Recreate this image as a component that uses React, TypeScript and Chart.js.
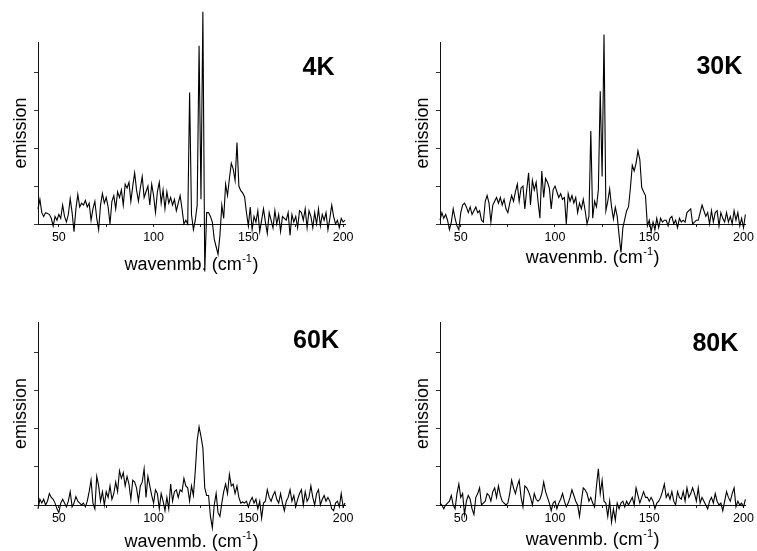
import React, { useEffect, useRef } from 'react';
import { Chart, registerables } from 'chart.js';

Chart.register(...registerables);

// wavenumber grid (cm^-1), one sample per cm^-1 from 39 to 201
const WAVENUMBERS: number[] = Array.from({ length: 163 }, (_, i) => 39 + i);

const EMISSION_4K = [
  0.4, 0.65, 0.3, 0.2, 0.3, 0.28, 0.25, 0.15, -0.05, 0.2,
  0.1, 0.25, 0.15, 0.5, 0.2, 0.05, 0.25, 0.67, 0.3, -0.2,
  0.4, 0.78, 0.45, 0.55, 0.5, 0.62, 0.45, 0.55, 0.1, 0.4,
  0.6, 0.15, -0.15, 0.5, 0.8, 0.55, 0.7, 0.45, 0.0, 0.6,
  0.75, 0.4, 0.85, 0.7, 0.9, 0.5, 1.05, 0.95, 1.1, 0.6,
  1.0, 1.35, 0.9, 0.6, 0.95, 1.25, 0.7, 0.85, 1.0, 0.5,
  1.05, 0.75, 0.3, 0.85, 1.1, 0.55, 0.9, 0.4, 0.85, 0.55,
  0.7, 0.5, 0.65, 0.35, 0.55, 0.75, 0.4, 0.0, 0.1, 0.0,
  3.47, 0.25, -0.15, 0.1, 0.5, 4.7, 0.65, 5.6, -1.25, 0.3,
  0.3, 0.2, 0.05, -0.4, -0.6, -0.8, -0.3, 0.5, 0.15, 1.05,
  0.75, 1.2, 1.6, 1.45, 1.15, 2.15, 1.0, 0.88, 0.82, 0.72,
  0.3, -0.05, 0.45, -0.15, 0.2, 0.05, 0.35, -0.2, 0.1, 0.4,
  0.05, -0.25, 0.3, 0.1, -0.1, 0.35, 0.0, 0.25, -0.2, 0.2,
  0.15, 0.1, 0.3, -0.3, 0.25, 0.05, 0.2, -0.1, 0.35, 0.3,
  0.1, 0.4, -0.1, 0.35, 0.2, -0.1, 0.3, 0.0, 0.4, -0.05,
  0.25, 0.1, 0.3, -0.15, 0.15, 0.5, 0.2, 0.0, 0.1, -0.1,
  0.15, 0.05, 0.1,
];

const EMISSION_30K = [
  0.1, 0.3, 0.15, 0.25, 0.1, -0.15, 0.05, 0.4, 0.15, -0.05,
  -0.15, 0.3, 0.5, 0.55, 0.45, 0.3, 0.45, 0.25, 0.35, 0.45,
  0.3, 0.35, 0.1, 0.05, 0.6, 0.75, 0.55, 0.05, 0.5, 0.6,
  0.7, 0.55, 0.7, 0.5, 0.65, 0.4, 0.3, 0.55, 0.75, 0.6,
  0.85, 1.05, 0.6, 0.95, 1.0, 0.4, 0.9, 1.35, 0.5, 1.15,
  0.9, 1.1, 0.6, 0.15, 1.4, 0.7, 1.2, 1.1, 0.95, 0.4,
  0.9, 1.0, 0.85, 0.7, 0.8, 0.65, 0.7, 0.0, 0.8, 0.6,
  0.75, 0.55, 0.7, 0.3, 0.55, 0.4, 0.65, 0.35, 0.0, 0.2,
  2.45, 0.15, 0.6, 0.45, 0.9, 3.5, 1.25, 5.0, 0.35, 0.6,
  0.92, 0.45, 0.13, 0.44, 0.2, -0.3, -0.75, -0.1, 0.13, 0.35,
  0.45, 0.95, 1.55, 1.4, 1.6, 1.93, 1.7, 0.96, 0.85, 0.75,
  -0.05, 0.1, -0.2, 0.05, -0.15, 0.15, -0.1, 0.15, 0.05, 0.1,
  0.1, -0.05, 0.15, 0.2, 0.0, 0.1, -0.1, 0.15, 0.05, 0.1,
  0.05, 0.3, 0.35, 0.4, 0.0, 0.05, 0.1, 0.1, 0.3, 0.5,
  0.35, 0.2, 0.3, 0.0, 0.35, 0.05, 0.3, 0.35, -0.05, 0.3,
  0.15, 0.05, 0.3, 0.05, 0.2, 0.0, 0.35, 0.1, 0.3, -0.05,
  0.15, -0.1, 0.25,
];

const EMISSION_60K = [
  -0.1, 0.15, 0.05, 0.15, 0.0, 0.1, 0.3, 0.2, 0.15, 0.05,
  -0.1, -0.2, 0.05, 0.15, 0.05, -0.05, 0.1, 0.35, -0.05, 0.05,
  0.22, 0.1, 0.05, 0.0, 0.05, -0.05, 0.1, 0.35, 0.65, 0.05,
  -0.1, 0.75, 0.5, 0.1, 0.35, 0.0, 0.35, 0.2, 0.5, 0.15,
  0.3, 0.6, 0.35, 0.9, 0.7, 0.85, 0.5, 0.75, 0.55, 0.15,
  0.65, 0.6, 0.45, 0.1, 0.5, 0.6, 0.95, 0.2, 0.75, 0.5,
  0.25, 0.05, 0.4, 0.3, -0.1, 0.3, 0.1, -0.15, 0.2, -0.1,
  0.55, 0.1, 0.35, 0.4, 0.2, 0.4, 0.35, 0.7, 0.5, 0.45,
  0.1, 0.5, 0.25, 0.9, 1.7, 2.05, 1.8, 1.5, 0.45, 0.25,
  0.25, -0.3, -0.6, 0.0, 0.3, -0.2, -0.3, 0.05, 0.35, 0.55,
  0.3, 0.8, 0.5, 0.55, 0.3, 0.5, 0.2, 0.05, 0.08, 0.05,
  0.1, -0.05, 0.1, 0.2, 0.05, 0.15, -0.1, 0.1, -0.35, 0.05,
  0.1, 0.4, 0.2, 0.1, 0.25, 0.35, 0.15, 0.05, 0.3, 0.05,
  -0.15, 0.1, 0.2, 0.4, 0.1, 0.25, -0.05, 0.15, 0.3, 0.4,
  0.0, 0.35, 0.1, 0.2, 0.5, 0.2, 0.0, 0.3, 0.4, 0.0,
  0.15, 0.25, 0.1, 0.2, 0.1, -0.1, -0.15, 0.05, 0.1, -0.05,
  0.3, -0.05, 0.05,
];

const EMISSION_80K = [
  0.05, 0.0, -0.1, 0.0, 0.05, 0.1, 0.25, 0.0, -0.1, 0.3,
  0.55, 0.2, 0.3, -0.25, 0.1, 0.25, 0.15, -0.1, -0.25, 0.2,
  0.3, 0.45, 0.0, 0.05, 0.1, 0.3, 0.25, 0.1, 0.35, 0.45,
  0.2, 0.5, 0.25, 0.1, 0.05, 0.0, 0.05, 0.3, 0.65, 0.45,
  0.3, 0.5, 0.65, 0.2, -0.05, 0.5, 0.45, 0.35, 0.2, 0.0,
  0.3, 0.15, 0.1, 0.15, 0.3, 0.6, 0.35, 0.2, 0.05, -0.15,
  0.05, 0.1, -0.1, 0.05, 0.15, 0.3, 0.1, -0.05, 0.05, 0.2,
  0.4, 0.25, 0.1, 0.0, -0.3, 0.1, 0.45, 0.4, 0.3, 0.1,
  0.2, 0.05, -0.05, 0.5, 0.95, 0.3, 0.65, 0.1, 0.05, -0.3,
  0.1, -0.45, -0.1, -0.4, 0.05, -0.1, 0.05, 0.1, -0.05, 0.1,
  0.0, 0.1, 0.2, 0.0, 0.45, 0.25, 0.05, 0.2, 0.35, 0.2,
  0.2, 0.1, 0.2, 0.1, -0.1, 0.05, 0.1, 0.2, 0.35, 0.55,
  0.2, 0.3, 0.15, 0.35, 0.1, 0.0, 0.35, 0.2, 0.15, 0.35,
  0.1, 0.45, 0.2, 0.3, 0.45, 0.3, 0.1, 0.45, 0.05, 0.2,
  0.1, 0.0, -0.1, 0.1, 0.2, 0.05, 0.3, 0.1, 0.0, 0.05,
  -0.15, 0.1, 0.35, 0.2, 0.1, 0.3, 0.45, -0.05, 0.1, 0.0,
  0.05, -0.05, 0.15,
];

const X_TICKS = [50, 75, 100, 125, 150, 175, 200];
const Y_TICKS = [0, 1, 2, 3, 4];
const X_MIN = 39;
const X_MAX = 201;
const Y_MIN = 0;
const Y_MAX = 4.8;

const Y_TITLE = 'emission';
const X_TITLE_MAIN = 'wavenmb. (cm';
const X_TITLE_SUP = '-1';
const X_TITLE_END = ')';

const PAGE_W = 757;
const PAGE_H = 551;
const FONT = '"Liberation Sans", Arial, Helvetica, sans-serif';
const Y_AXIS_W = 30;
const X_AXIS_H = 50;

interface PanelSpec {
  label: string;
  values: number[];
  area: { left: number; top: number; right: number; bottom: number };
  labelRight: number;
  labelBaseline: number;
  titleBaseline: number;
}

const PANELS: PanelSpec[] = [
  { label: '4K', values: EMISSION_4K, area: { left: 38, top: 42, right: 345, bottom: 224 }, labelRight: 26.5, labelBaseline: 33, titleBaseline: 46 },
  { label: '30K', values: EMISSION_30K, area: { left: 440, top: 42, right: 747, bottom: 224 }, labelRight: 26, labelBaseline: 32, titleBaseline: 39 },
  { label: '60K', values: EMISSION_60K, area: { left: 38, top: 322, right: 345, bottom: 505 }, labelRight: 29, labelBaseline: 25.5, titleBaseline: 42 },
  { label: '80K', values: EMISSION_80K, area: { left: 440, top: 322, right: 747, bottom: 505 }, labelRight: 30, labelBaseline: 28.5, titleBaseline: 40 },
];

function makeTextPlugin(p: PanelSpec) {
  return {
    id: 'panelText',
    beforeDatasetsDraw(chart: any) {
      const { ctx, chartArea } = chart;
      ctx.save();
      ctx.fillStyle = '#000';
      ctx.textBaseline = 'alphabetic';
      ctx.textAlign = 'center';
      ctx.font = `bold 25px ${FONT}`;
      ctx.fillText(p.label, chartArea.right - p.labelRight, chartArea.top + p.labelBaseline);

      ctx.textAlign = 'left';
      const mainFont = `18px ${FONT}`;
      const supFont = `11px ${FONT}`;
      ctx.font = mainFont;
      const w1 = ctx.measureText(X_TITLE_MAIN).width;
      const w3 = ctx.measureText(X_TITLE_END).width;
      ctx.font = supFont;
      const w2 = ctx.measureText(X_TITLE_SUP).width;
      const total = w1 + w2 + w3 + 1;
      let x = (chartArea.left + chartArea.right) / 2 - total / 2;
      const y = chartArea.bottom + p.titleBaseline;
      ctx.font = mainFont;
      ctx.fillText(X_TITLE_MAIN, x, y);
      x += w1 + 0.5;
      ctx.font = supFont;
      ctx.fillText(X_TITLE_SUP, x, y - 8);
      x += w2 + 0.5;
      ctx.font = mainFont;
      ctx.fillText(X_TITLE_END, x, y);
      ctx.restore();
    },
  };
}

function Panel({ spec }: { spec: PanelSpec }) {
  const ref = useRef<HTMLCanvasElement | null>(null);
  useEffect(() => {
    if (!ref.current) return;
    const { area } = spec;
    const chart = new Chart(ref.current, {
      type: 'line',
      data: {
        datasets: [
          {
            data: WAVENUMBERS.map((x, i) => ({ x, y: spec.values[i] })),
            borderColor: '#000',
            borderWidth: 1.1,
            pointRadius: 0,
            tension: 0,
            fill: false,
            clip: false as any,
          },
        ],
      },
      options: {
        responsive: false,
        animation: false,
        events: [],
        layout: {
          padding: {
            left: area.left - Y_AXIS_W,
            right: PAGE_W - area.right,
            top: area.top,
            bottom: PAGE_H - area.bottom - X_AXIS_H,
          },
        },
        plugins: {
          legend: { display: false },
          tooltip: { enabled: false },
          title: { display: false },
        },
        scales: {
          x: {
            type: 'linear',
            min: X_MIN,
            max: X_MAX,
            afterBuildTicks: (axis: any) => {
              axis.ticks = X_TICKS.map((v) => ({ value: v }));
            },
            afterFit: (scale: any) => {
              scale.height = X_AXIS_H;
            },
            grid: { display: true, drawOnChartArea: false, drawTicks: true, tickLength: 3, color: '#222', lineWidth: 1 },
            border: { display: true, color: '#111', width: 1 },
            ticks: {
              autoSkip: false,
              maxRotation: 0,
              padding: 3,
              color: '#000',
              font: { family: FONT, size: 12.5 },
              callback: (v: any) => (Number(v) % 50 === 0 ? String(v) : ''),
            },
          },
          y: {
            type: 'linear',
            min: Y_MIN,
            max: Y_MAX,
            afterBuildTicks: (axis: any) => {
              axis.ticks = Y_TICKS.map((v) => ({ value: v }));
            },
            afterFit: (scale: any) => {
              scale.width = Y_AXIS_W;
            },
            grid: { display: true, drawOnChartArea: false, drawTicks: true, tickLength: 4, color: '#333', lineWidth: 1 },
            border: { display: true, color: '#111', width: 1 },
            ticks: { padding: 0, callback: () => '' },
            title: {
              display: true,
              text: Y_TITLE,
              color: '#000',
              font: { family: FONT, size: 18 },
              padding: { top: 2.7, bottom: 0 },
            },
          },
        },
      } as any,
      plugins: [makeTextPlugin(spec)],
    });
    return () => chart.destroy();
  }, [spec]);
  return (
    <canvas
      ref={ref}
      width={PAGE_W}
      height={PAGE_H}
      style={{ position: 'absolute', left: 0, top: 0, width: PAGE_W, height: PAGE_H, display: 'block' }}
    />
  );
}

export default function App() {
  return (
    <div style={{ position: 'fixed', left: 0, top: 0, width: PAGE_W, height: PAGE_H, background: '#fff', overflow: 'hidden' }}>
      {PANELS.map((p) => (
        <Panel key={p.label} spec={p} />
      ))}
    </div>
  );
}
